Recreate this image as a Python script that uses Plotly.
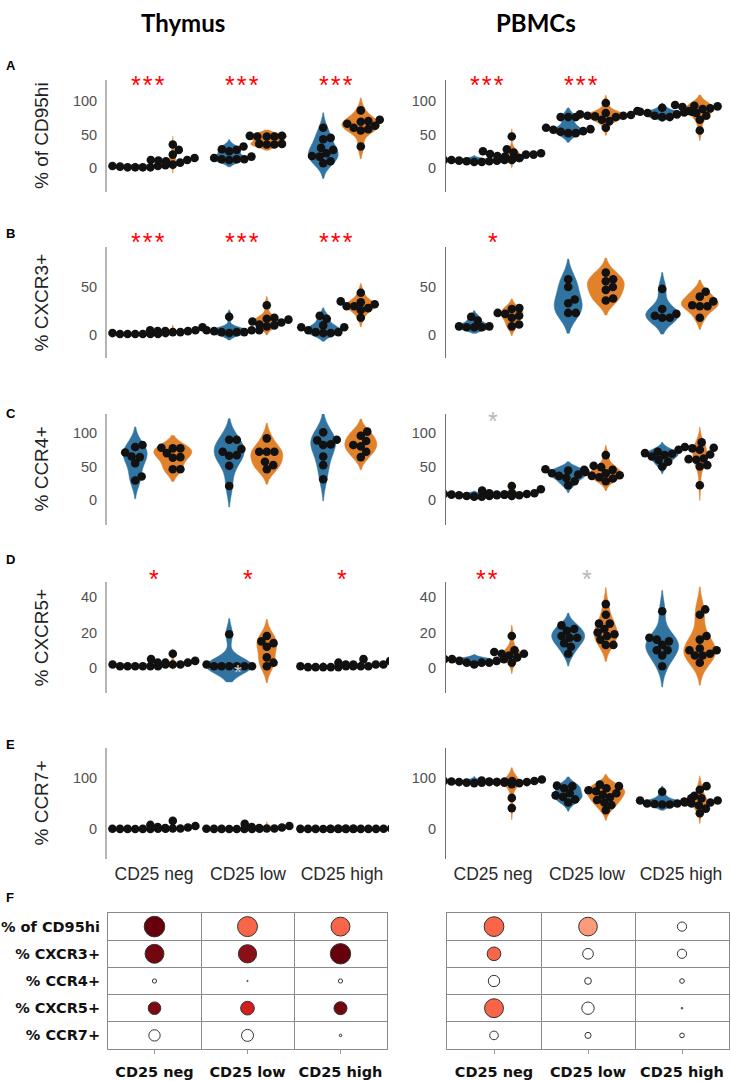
import math
import plotly.graph_objects as go

W, H = 731, 1081

# ---------------- data ----------------
CATEGORIES = ['CD25 neg', 'CD25 low', 'CD25 high']
MARKERS = ['% of CD95hi', '% CXCR3+', '% CCR4+', '% CXCR5+', '% CCR7+']
TISSUES = ['Thymus', 'PBMCs']
PANEL_LETTERS = ['A', 'B', 'C', 'D', 'E', 'F']

# each panel: 6 groups [neg-blue, neg-orange, low-blue, low-orange, high-blue, high-orange]
thymus_cd95 = [
    [4, 3, 1, 1, 1, 1, 2, 3],
    [35, 27, 20, 15, 12, 12, 11, 10, 8, 5],
    [32, 28, 27, 25, 17, 15, 13, 13, 13, 12],
    [48, 48, 47, 47, 47, 36, 35, 35, 36],
    [60, 45, 43, 30, 27, 22, 18, 17, 10, 7],
    [86, 72, 70, 69, 66, 63, 60, 58, 56, 32],
]
thymus_cxcr3 = [
    [2, 1, 1, 1, 1, 1, 1, 2],
    [5, 4, 8, 3, 3, 4, 5, 4],
    [19, 5, 5, 4, 3, 3, 2, 3, 5],
    [31, 18, 17, 16, 14, 13, 11, 10, 9],
    [20, 17, 10, 8, 8, 5, 3, 3, 2, 2],
    [44, 35, 34, 32, 30, 30, 28, 26, 18],
]
thymus_ccr4 = [
    [82, 79, 71, 65, 64, 55, 35, 29],
    [78, 77, 77, 70, 64, 63, 46, 46],
    [90, 90, 76, 72, 67, 66, 51, 21],
    [92, 72, 72, 72, 57, 52, 46],
    [101, 90, 89, 83, 82, 65, 52, 31],
    [102, 96, 88, 82, 80, 72, 64],
]
thymus_cxcr5 = [
    [2, 1, 1, 2, 1, 1, 1, 1],
    [8, 5, 4, 3, 3, 2, 2, 3],
    [19, 2, 1, 1, 1, 1, 1, 1],
    [18, 15, 14, 12, 6, 3, 1],
    [2, 1, 1, 0.5, 0.5, 0.5, 0.5, 0.5],
    [5, 4, 3, 2, 2, 1, 1, 1, 2],
]
thymus_ccr7 = [
    [0.5, 0.3, 0.2, 0.4, 0.1, 0.6, 0.3, 0.2],
    [16, 8, 6, 4, 3, 2, 1, 1],
    [0.4, 0.2, 0.3, 0.1, 0.5, 0.2, 0.3, 0.1],
    [10, 6, 4, 3, 2, 1, 1],
    [0.3, 0.2, 0.4, 0.1, 0.2, 0.3, 0.1, 0.2],
    [1, 0.5, 0.3, 0.4, 0.2, 0.3, 0.5, 0.2, 0.4],
]
pbmc_cd95 = [
    [12, 12, 10, 9, 11, 14, 15, 10, 9, 11, 13, 12],
    [47, 28, 25, 23, 22, 21, 20, 18, 17, 15, 12, 20],
    [76, 76, 76, 60, 58, 57, 55, 54, 52, 52],
    [97, 85, 82, 80, 79, 78, 78, 77, 76, 72, 70, 60],
    [90, 84, 84, 83, 82, 80, 78, 76, 76],
    [94, 93, 92, 91, 89, 88, 85, 82, 78, 72, 56],
]
pbmc_cxcr3 = [
    [19, 15, 9, 9, 8, 8, 8],
    [28, 27, 23, 22, 20, 18, 11, 9],
    [58, 50, 37, 33, 23, 23],
    [65, 58, 56, 50, 47, 38, 36],
    [48, 27, 22, 20, 18, 18],
    [45, 40, 35, 31, 30, 30, 18],
]
pbmc_ccr4 = [
    [10, 8, 6, 5, 5, 6, 7, 8, 9, 7],
    [21, 16, 14, 10, 8, 7, 6, 9, 10, 8],
    [46, 45, 44, 40, 38, 36, 33, 28, 22],
    [67, 51, 49, 45, 42, 40, 37, 36, 34, 32, 28],
    [75, 72, 70, 69, 67, 65, 60, 57, 50],
    [86, 79, 78, 77, 75, 68, 62, 61, 60, 52, 50, 22],
]
pbmc_cxcr5 = [
    [6, 5, 4, 3, 3, 2, 3, 4, 5, 5],
    [18, 10, 9, 8, 8, 7, 6, 3],
    [24, 22, 21, 18, 17, 17, 14, 12, 8],
    [36, 30, 25, 25, 22, 20, 19, 18, 16, 13, 13],
    [32, 17, 16, 15, 13, 10, 10, 7, 1],
    [33, 30, 18, 16, 11, 10, 10, 8, 7, 7, 3],
]
pbmc_ccr7 = [
    [98, 94, 92, 91, 92, 93, 94, 92, 91, 90, 93],
    [97, 95, 93, 92, 91, 90, 88, 61, 41, 94, 92],
    [85, 84, 80, 70, 66, 63, 58, 52],
    [87, 84, 80, 76, 74, 70, 67, 62, 57, 52, 47, 37],
    [73, 60, 56, 52, 50, 49, 48, 48, 50],
    [84, 77, 65, 60, 56, 54, 52, 50, 46, 40, 31],
]

THYMUS = [thymus_cd95, thymus_cxcr3, thymus_ccr4, thymus_cxcr5, thymus_ccr7]
PBMC = [pbmc_cd95, pbmc_cxcr3, pbmc_ccr4, pbmc_cxcr5, pbmc_ccr7]

# significance stars per panel and category ('g' prefix = grey / trend)
thymus_stars = [['***', '***', '***'], ['***', '***', '***'], ['', '', ''], ['*', '*', '*'], ['', '', '']]
pbmc_stars = [['***', '***', ''], ['*', '', ''], ['g*', '', ''], ['**', 'g*', ''], ['', '', '']]

# dot-matrix summary (F): effect size (0-1) and significance score (0 = ns)
thymus_effect = [[0.98, 0.95, 0.90], [0.90, 0.87, 0.97], [0.20, 0.06, 0.20], [0.60, 0.65, 0.62], [0.54, 0.57, 0.12]]
thymus_signif = [[1.0, 0.55, 0.55], [0.97, 0.92, 1.0], [0, 0, 0], [0.95, 0.75, 0.97], [0, 0, 0]]
pbmc_effect = [[0.94, 0.89, 0.44], [0.65, 0.51, 0.44], [0.54, 0.32, 0.22], [0.90, 0.59, 0.08], [0.41, 0.29, 0.22]]
pbmc_signif = [[0.55, 0.42, 0], [0.55, 0, 0], [0, 0, 0], [0.55, 0, 0], [0, 0, 0]]

# ---------------- style ----------------
BLUE, ORANGE = '#3274a1', '#e1812c'
ARIAL = 'Liberation Sans, Arial, sans-serif'
DEJAVU = 'DejaVu Sans, sans-serif'

# violin max widths in px (style)
VWIDTH = [
    [[12, 6, 34, 40, 30, 38], [8, 6, 40, 27, 35, 30], [24, 38, 30, 32, 25, 32], [8, 4, 46, 20, 8, 4], [4, 4, 4, 4, 4, 4]],
    [[36, 15, 28, 38, 38, 28], [37, 22, 28, 37, 33, 37], [38, 14, 38, 32, 32, 14], [37, 18, 33, 23, 33, 32], [40, 15, 28, 38, 40, 15]],
]

COL_X = [(107, 389), (446, 728)]
ROW_Y = [(80, 192), (247, 358), (414, 525), (582, 693), (748, 859)]
ZERO_PX = [168, 335, 500, 668, 829]
PX_PER_UNIT = [0.67, 0.96, 0.67, 1.775, 0.51]
YTICKS = [[0, 50, 100], [0, 50], [0, 50, 100], [0, 20, 40], [0, 100]]
STAR_Y = [79, 236, 415, 573]
LETTER_Y = [65, 233, 413, 559, 745, 897]
XPX = 94.0  # px per category unit
OFFS = 0.2  # hue dodge
DOT = 8.6   # marker diameter
GAP = 7.6   # swarm spacing


def px_x(p):
    return p / W


def px_y(p):
    return 1 - p / H


def swarm(vals, ppu, d=GAP):
    order = sorted(range(len(vals)), key=lambda i: vals[i])
    placed = []
    out = [0.0] * len(vals)
    for i in order:
        y = vals[i] * ppu
        cands = [0.0]
        for (px, py) in placed:
            dy = abs(py - y)
            if dy < d:
                dx = math.sqrt(d * d - dy * dy)
                cands += [px + dx, px - dx]
        cands.sort(key=abs)
        for c in cands:
            if all((c - px) ** 2 + (y - py) ** 2 >= d * d - 1e-6 for px, py in placed):
                out[i] = c
                placed.append((c, y))
                break
    return out


def bw_scott(vals, floor):
    n = len(vals)
    m = sum(vals) / n
    sd = math.sqrt(sum((v - m) ** 2 for v in vals) / max(n - 1, 1))
    return max(1.059 * sd * n ** -0.2, floor)


fig = go.Figure()
layout = dict(
    width=W, height=H, margin=dict(l=0, r=0, t=0, b=0),
    paper_bgcolor='white', plot_bgcolor='white', showlegend=False,
    violinmode='overlay', annotations=[],
)

violin_traces, point_traces = [], []
for c, data in enumerate([THYMUS, PBMC]):
    for r in range(5):
        k = r * 2 + c + 1
        ax = '' if k == 1 else str(k)
        top, bot = ROW_Y[r]
        ppu = PX_PER_UNIT[r]
        lo = -(bot - ZERO_PX[r]) / ppu
        hi = (ZERO_PX[r] - top) / ppu
        x0, x1 = COL_X[c]
        layout['xaxis' + ax] = dict(
            domain=[px_x(x0), px_x(x1)], range=[-0.5, 2.5], type='linear',
            showgrid=False, zeroline=False, showline=False,
            tickvals=[0, 1, 2], ticktext=CATEGORIES, ticks='',
            showticklabels=(r == 4), ticklabelstandoff=2,
            tickfont=dict(family=ARIAL, size=17.5, color='#2a2a2a'),
            anchor='y' + ax, fixedrange=True,
        )
        layout['yaxis' + ax] = dict(
            domain=[px_y(bot), px_y(top)], range=[lo, hi],
            showgrid=False, zeroline=False, showline=True,
            linecolor='#b5b5b5' if c == 0 else '#707070', linewidth=2 if c == 0 else 1.2,
            tickvals=YTICKS[r], ticks='', ticklabelstandoff=5 if c == 0 else 6,
            tickfont=dict(family=ARIAL, size=14.5, color='#505050'),
            anchor='x' + ax, fixedrange=True,
        )
        for g, vals in enumerate(data[r]):
            cat, hue = divmod(g, 2)
            pos = cat + (-OFFS if hue == 0 else OFFS)
            col = BLUE if hue == 0 else ORANGE
            violin_traces.append(go.Violin(
                y=vals, x0=pos, width=VWIDTH[c][r][g] / XPX, scalemode='width',
                bandwidth=bw_scott(vals, 0.6 / ppu * 2), spanmode='soft',
                fillcolor=col, line=dict(color=col, width=0.5), opacity=1,
                points=False, box_visible=False, meanline_visible=False,
                hoverinfo='skip', xaxis='x' + ax, yaxis='y' + ax,
            ))
            offs = swarm(vals, ppu)
            point_traces.append(go.Scatter(
                x=[pos + o / XPX for o in offs], y=vals, mode='markers',
                marker=dict(size=DOT, color='#111111', line=dict(width=0)),
                hoverinfo='y', xaxis='x' + ax, yaxis='y' + ax,
            ))
        # stars
        stars = (thymus_stars if c == 0 else pbmc_stars)[r]
        for ci, s in enumerate(stars):
            if not s:
                continue
            grey = s.startswith('g')
            s = s.lstrip('g')
            layout['annotations'].append(dict(
                xref='x' + ax, yref='paper', x=ci - (0.06 if len(s) > 1 else 0),
                y=px_y(STAR_Y[r] + 6), text='\u200a'.join(s), showarrow=False,
                font=dict(family=ARIAL, size=25, color='#b8b8b8' if grey else '#ff0000'),
                xanchor='center', yanchor='middle',
            ))
        if c == 0:
            layout['annotations'].append(dict(
                xref='paper', yref='paper', x=px_x(41), y=px_y((top + bot) / 2),
                text=MARKERS[r], textangle=-90, showarrow=False,
                font=dict(family=ARIAL, size=19, color='#222222'),
                xanchor='center', yanchor='middle',
            ))

# grey asterisk inside thymus CXCR5 low blue violin
layout['annotations'].append(dict(
    xref='x7', yref='y7', x=1 - OFFS + 0.09, y=0.5, text='*', showarrow=False, yshift=-5,
    font=dict(family=ARIAL, size=20, color='#d0d0d0'), xanchor='center', yanchor='middle',
))

for t in violin_traces + point_traces:
    fig.add_trace(t)

# ---------------- F: dot matrix ----------------
REDS = [[0, '#ffffff'], [0.02, '#fff0ea'], [0.3, '#fcbba1'], [0.42, '#fc9b7c'], [0.55, '#f86549'],
        [0.75, '#cf1f1f'], [0.92, '#8a0f16'], [1.0, '#67000d']]
TAB_X = [(108, 387), (447, 729)]
TAB_Y = (913, 1049)
for c, (eff, sig) in enumerate([(thymus_effect, thymus_signif), (pbmc_effect, pbmc_signif)]):
    k = 11 + c
    ax = str(k)
    xs, ys, ss, cs = [], [], [], []
    for ri in range(len(MARKERS)):
        for ci in range(len(CATEGORIES)):
            xs.append(ci)
            ys.append(ri)
            ss.append(eff[ri][ci] * 21)
            cs.append(sig[ri][ci])
    fig.add_trace(go.Scatter(
        x=xs, y=ys, mode='markers', xaxis='x' + ax, yaxis='y' + ax,
        marker=dict(size=ss, color=cs, colorscale=REDS, cmin=0, cmax=1,
                    line=dict(color='#333333', width=1), opacity=1),
        hoverinfo='skip',
    ))
    x0, x1 = TAB_X[c]
    layout['xaxis' + ax] = dict(
        domain=[px_x(x0), px_x(x1)], range=[-0.5, 2.5], anchor='y' + ax,
        tickvals=[0, 1, 2], ticktext=CATEGORIES, ticks='outside', ticklen=4,
        tickcolor='#999999', tickwidth=1, ticklabelstandoff=6,
        tickfont=dict(family=DEJAVU, size=14.5, color='#111111', weight='bold'),
        showgrid=False, zeroline=False, showline=True, mirror=True,
        linecolor='#8a8a8a', linewidth=1,
        minor=dict(tickmode='array', tickvals=[0.5, 1.5], showgrid=True,
                   gridcolor='#8a8a8a', gridwidth=1, ticks=''),
        fixedrange=True,
    )
    layout['yaxis' + ax] = dict(
        domain=[px_y(TAB_Y[1]), px_y(TAB_Y[0])], range=[4.5, -0.5], anchor='x' + ax,
        tickvals=list(range(5)), ticktext=MARKERS, ticks='', showticklabels=(c == 0),
        ticklabelstandoff=4,
        tickfont=dict(family=DEJAVU, size=14.5, color='#111111', weight='bold'),
        showgrid=False, zeroline=False, showline=True, mirror=True,
        linecolor='#8a8a8a', linewidth=1,
        minor=dict(tickmode='array', tickvals=[0.5, 1.5, 2.5, 3.5], showgrid=True,
                   gridcolor='#8a8a8a', gridwidth=1, ticks=''),
        fixedrange=True,
    )

# titles and panel letters
for name, xc in zip(TISSUES, [183, 536]):
    layout['annotations'].append(dict(
        xref='paper', yref='paper', x=px_x(xc), y=px_y(22), text=name, showarrow=False,
        font=dict(family='Lato, sans-serif', size=24, color='#000000', weight='bold'),
        xanchor='center', yanchor='middle',
    ))
for letter, yy in zip(PANEL_LETTERS, LETTER_Y):
    layout['annotations'].append(dict(
        xref='paper', yref='paper', x=px_x(4), y=px_y(yy), text=letter, showarrow=False,
        font=dict(family=ARIAL, size=13, color='#000000', weight='bold'),
        xanchor='left', yanchor='middle',
    ))

fig.update_layout(**layout)
fig.write_html("out.html", config={'displayModeBar': False},
               post_script="document.body.style.margin='0';document.body.style.overflow='hidden';")
